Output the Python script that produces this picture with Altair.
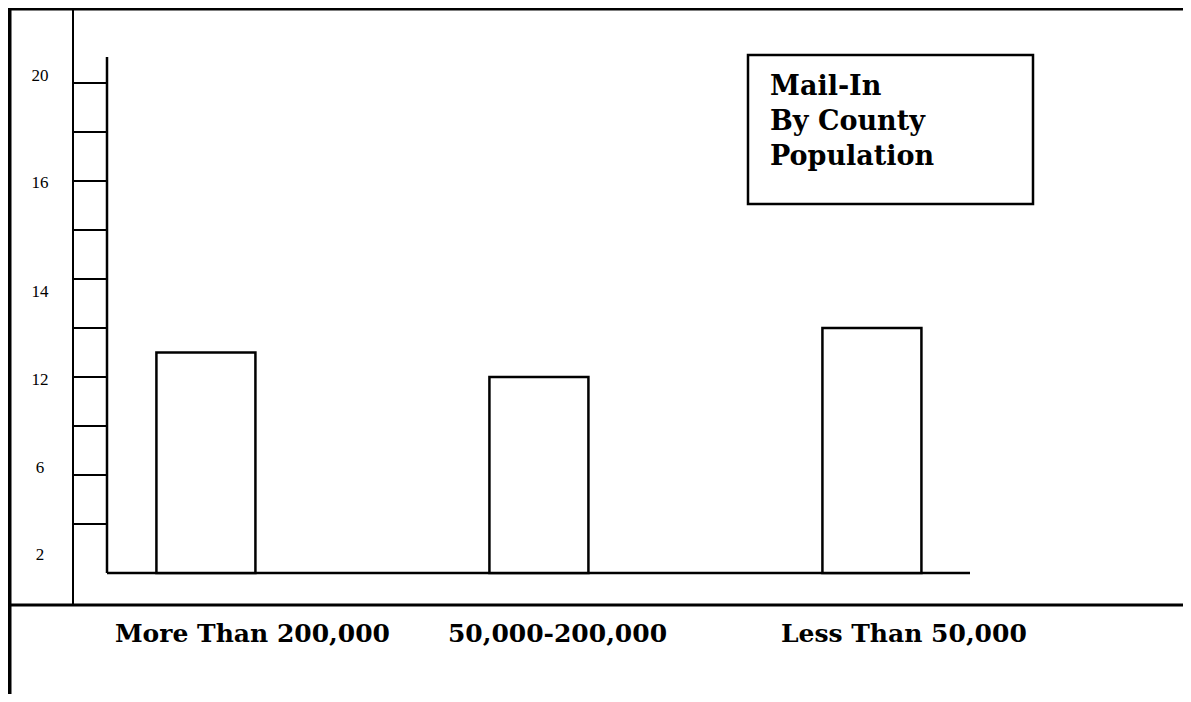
import altair as alt
import pandas as pd

# ---- data ----
categories = ["More Than 200,000", "50,000-200,000", "Less Than 50,000"]
bar_values = [4.5, 4.0, 5.0]            # bar heights in grid-tick units
tick_values = [1, 2, 3, 4, 5, 6, 7, 8, 9, 10]
ytick_labels = ["20", "16", "14", "12", "6", "2"]
ytick_pos = [10.14, 7.96, 5.73, 3.94, 2.14, 0.37]
title_lines = ["Mail-In", "By County", "Population"]

W, H = 1175, 686

bars_df = pd.DataFrame({"cat": categories, "val": bar_values, "zero": [0, 0, 0]})
ticks_df = pd.DataFrame({"t": tick_values})
ylab_df = pd.DataFrame({"lab": ytick_labels, "pos": ytick_pos})
one = pd.DataFrame({"a": [0], "title": ["\n".join(title_lines)]})

yscale = alt.Scale(domain=[-2.469, 11.531], nice=False, zero=False)
xscale = alt.Scale(type="band", domain=categories, paddingInner=0.7027,
                   paddingOuter=0.6156, align=0.362)

def rule(x=None, x2=None, y=None, y2=None, sw=2):
    enc = {}
    for k, v in (("x", x), ("x2", x2), ("y", y), ("y2", y2)):
        if v is not None:
            enc[k] = alt.value(v)
    return alt.Chart(one).mark_rule(color="black", strokeWidth=sw).encode(**enc)

frame = [
    rule(x=0, x2=W, y=1, sw=3),           # top border
    rule(x=1.5, y=0, y2=H, sw=4),         # left thick border
    rule(x=0, x2=W, y=597, sw=3),         # horizontal separator
    rule(x=65, y=0, y2=597, sw=2),        # inner vertical line
    rule(x=99, y=49, y2=565, sw=2.5),     # y axis line
]

baseline = alt.Chart(one).mark_rule(color="black", strokeWidth=2.5).encode(
    x=alt.value(99), x2=alt.value(962),
    y=alt.Y("a:Q", scale=yscale, axis=None),
)

ticks = alt.Chart(ticks_df).mark_rule(color="black", strokeWidth=2).encode(
    x=alt.value(65), x2=alt.value(99),
    y=alt.Y("t:Q", scale=yscale, axis=None),
)

ylabels = alt.Chart(ylab_df).mark_text(
    font="Liberation Serif", fontSize=17, align="center", baseline="middle", color="black"
).encode(
    x=alt.value(32),
    y=alt.Y("pos:Q", scale=yscale, axis=None),
    text="lab:N",
)

bars = alt.Chart(bars_df).mark_bar(fill="white", stroke="black", strokeWidth=2.5).encode(
    x=alt.X("cat:N", scale=xscale, sort=categories, axis=None),
    y=alt.Y("val:Q", scale=yscale, axis=None),
    y2="zero:Q",
)

xlabels = alt.Chart(bars_df).mark_text(
    font="DejaVu Serif", fontWeight="bold", fontSize=25, align="left",
    baseline="alphabetic", dx=-91, color="black"
).encode(
    x=alt.X("cat:N", scale=xscale, sort=categories, axis=None),
    y=alt.value(634),
    text="cat:N",
)

box = alt.Chart(one).mark_rect(fill="white", stroke="black", strokeWidth=2.5).encode(
    x=alt.value(740), x2=alt.value(1025), y=alt.value(47), y2=alt.value(196)
)

title = alt.Chart(one).mark_text(
    font="DejaVu Serif", fontWeight="bold", fontSize=27, align="left",
    baseline="alphabetic", lineHeight=35, lineBreak="\n", color="black"
).encode(
    x=alt.value(762), y=alt.value(87), text="title:N"
)

chart = alt.layer(*frame, baseline, ticks, ylabels, bars, xlabels, box, title).properties(
    width=W, height=H, padding=0, autosize="none", background="white"
).configure_view(stroke=None)

chart.save("out.html", embed_options={"renderer": "svg", "actions": False})
